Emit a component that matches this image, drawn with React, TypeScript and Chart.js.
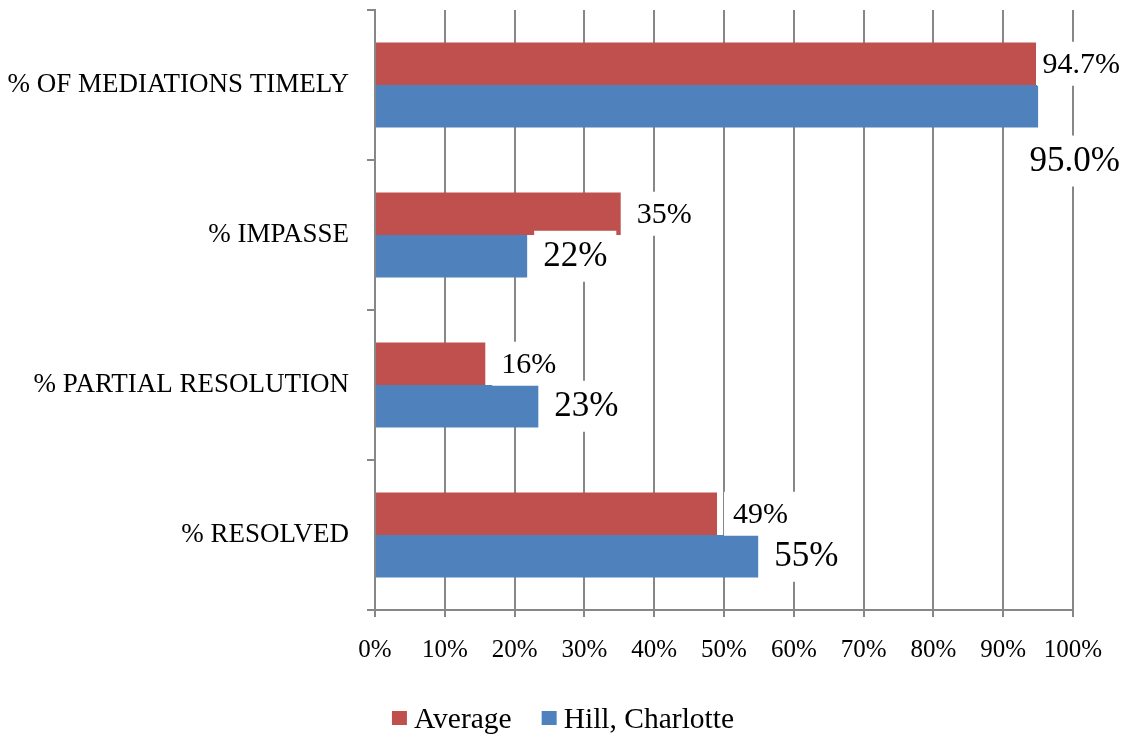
import React, { useEffect, useRef } from 'react';
import { Chart, registerables } from 'chart.js';

Chart.register(...registerables);

// ---- data ----
const categories = ['% OF MEDIATIONS TIMELY', '% IMPASSE', '% PARTIAL RESOLUTION', '% RESOLVED'];
const averageValues = [94.7, 35.2, 15.8, 49.0];
const hillValues = [95.0, 21.8, 23.4, 54.9];
const labelDecimals = [1, 0, 0, 0];
const seriesNames = ['Average', 'Hill, Charlotte'];
const xTickValues = [0, 10, 20, 30, 40, 50, 60, 70, 80, 90, 100];

// ---- style ----
const FONT = '"Liberation Serif", "Times New Roman", Times, serif';
const RED = '#C0504D';
const BLUE = '#4F81BD';
const GRID = '#878787';
const LABEL_SIZES = [30, 35];
const W = 1126;
const H = 736;

const dataLabelPlugin = {
  id: 'dataLabelsCustom',
  afterDatasetsDraw(chart: any) {
    const ctx = chart.ctx as CanvasRenderingContext2D;
    const cw = chart.width;
    chart.data.datasets.forEach((ds: any, di: number) => {
      const meta = chart.getDatasetMeta(di);
      const fs = LABEL_SIZES[di];
      ctx.save();
      ctx.font = `${fs}px ${FONT}`;
      meta.data.forEach((el: any, i: number) => {
        const v = ds.data[i] as number;
        const text = v.toFixed(labelDecimals[i]) + '%';
        const w = ctx.measureText(text).width;
        const { x, y, height } = el.getProps(['x', 'y', 'height'], true);
        const boxH = Math.round(fs * 1.45);
        let tx = x + 16;
        let cy = y;
        let below = false;
        if (tx + w > cw - 6) {
          tx = cw - 6 - w;
          if (tx < x) {
            below = true;
            cy = y + height / 2 + 8 + boxH / 2;
          }
        }
        const bx = below ? tx - 9 : Math.max(tx - 9, x + 1);
        ctx.fillStyle = '#ffffff';
        ctx.fillRect(bx, cy - boxH / 2, tx + w + 9 - bx, boxH);
        ctx.fillStyle = '#000000';
        ctx.textBaseline = 'middle';
        ctx.textAlign = 'left';
        ctx.fillText(text, tx, cy + 1);
      });
      ctx.restore();
    });
  },
};

const legendPlugin = {
  id: 'legendCustom',
  afterDraw(chart: any) {
    const ctx = chart.ctx as CanvasRenderingContext2D;
    const fs = 29.5;
    const box = 15;
    const gap = 7;
    const itemGap = 30;
    ctx.save();
    ctx.font = `${fs}px ${FONT}`;
    const items = chart.data.datasets.map((ds: any) => ({
      text: ds.label as string,
      color: ds.backgroundColor as string,
      w: ctx.measureText(ds.label).width,
    }));
    const total =
      items.reduce((s: number, it: any) => s + box + gap + it.w, 0) + itemGap * (items.length - 1);
    let x = chart.width / 2 - total / 2;
    const ty = 720;
    items.forEach((it: any) => {
      ctx.fillStyle = it.color;
      ctx.fillRect(x, 711, box, 14);
      ctx.fillStyle = '#000';
      ctx.textBaseline = 'middle';
      ctx.textAlign = 'left';
      ctx.fillText(it.text, x + box + gap, ty);
      x += box + gap + it.w + itemGap;
    });
    ctx.restore();
  },
};

export default function App() {
  const canvasRef = useRef<HTMLCanvasElement | null>(null);

  useEffect(() => {
    const canvas = canvasRef.current;
    if (!canvas) return;
    const chart = new Chart(canvas, {
      type: 'bar',
      data: {
        labels: categories,
        datasets: [
          {
            label: seriesNames[0],
            data: averageValues,
            backgroundColor: RED,
            borderWidth: 0,
            categoryPercentage: 0.567,
            barPercentage: 1.0,
          },
          {
            label: seriesNames[1],
            data: hillValues,
            backgroundColor: BLUE,
            borderWidth: 0,
            categoryPercentage: 0.567,
            barPercentage: 1.0,
          },
        ],
      },
      options: {
        indexAxis: 'y',
        responsive: false,
        animation: false,
        devicePixelRatio: 1,
        layout: { padding: { top: 10, right: 53, bottom: 0, left: 0 } },
        plugins: {
          legend: { display: false },
          tooltip: { enabled: false },
          title: { display: false },
        },
        scales: {
          x: {
            type: 'linear',
            position: 'bottom',
            min: 0,
            max: 100,
            afterBuildTicks: (s: any) => {
              s.ticks = xTickValues.map((v) => ({ value: v }));
            },
            afterFit: (s: any) => {
              s.height = 126;
              s.paddingLeft = 0;
              s.paddingRight = 0;
            },
            ticks: {
              padding: 18,
              color: '#000',
              font: { family: FONT, size: 25 },
              maxRotation: 0,
              autoSkip: false,
              callback: (v: any) => `${v}%`,
            },
            grid: { color: GRID, lineWidth: 2, drawTicks: true, tickLength: 7 },
            border: { display: true, color: GRID, width: 2 },
          },
          y: {
            type: 'category',
            afterFit: (s: any) => {
              s.width = 375;
              s.paddingTop = 0;
              s.paddingBottom = 0;
            },
            ticks: {
              padding: 18,
              color: '#000',
              font: { family: FONT, size: 27 },
            },
            grid: {
              offset: true,
              drawOnChartArea: false,
              drawTicks: true,
              tickLength: 8,
              color: GRID,
              lineWidth: 2,
            },
            border: { display: true, color: GRID, width: 2 },
          },
        },
      } as any,
      plugins: [dataLabelPlugin, legendPlugin],
    });
    return () => chart.destroy();
  }, []);

  return (
    <div style={{ position: 'fixed', left: 0, top: 0, width: W, height: H, background: '#fff' }}>
      <canvas ref={canvasRef} width={W} height={H} style={{ display: 'block', width: W, height: H }} />
    </div>
  );
}
